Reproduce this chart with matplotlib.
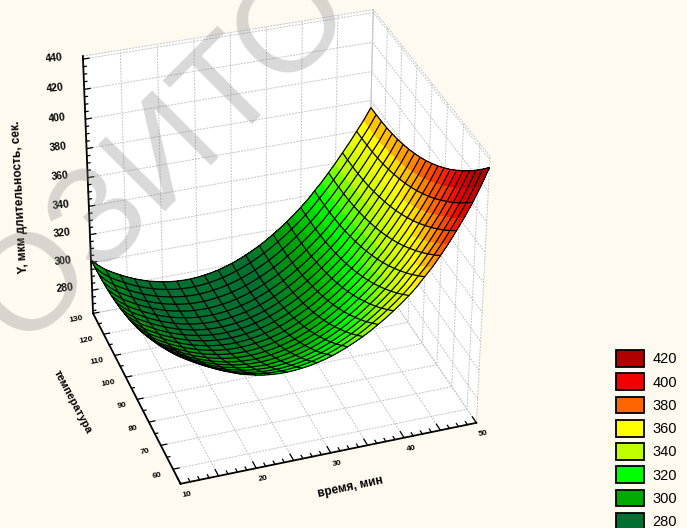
import numpy as np
import matplotlib
matplotlib.use("Agg")
import matplotlib.pyplot as plt
from matplotlib.colors import LinearSegmentedColormap
from matplotlib.patches import Patch

# surface: height along x at the back, rise towards the front,
# and how strong that rise is at each x
x_steps = np.linspace(10, 50, 41)
y_steps = np.linspace(54, 130, 21)
z_along_x = [302.0, 297.0, 293.1, 290.1, 287.4, 284.9, 282.7, 280.8, 279.1, 277.8,
             276.7, 275.8, 275.3, 275.0, 275.0, 275.3, 275.9, 276.7, 277.8, 279.2,
             280.8, 282.8, 285.0, 287.5, 290.2, 293.2, 296.6, 300.1, 304.0, 308.1,
             312.5, 317.2, 322.7, 328.0, 334.0, 340.0, 346.5, 353.0, 360.0, 367.0, 375.0]
rise_along_y = [55.0, 49.4, 44.0, 39.0, 34.3, 29.9, 25.7, 21.9, 18.4, 15.2, 12.3,
                9.7, 7.5, 5.5, 3.8, 2.4, 1.4, 0.6, 0.2, 0.0, 0.0]
rise_scale = [0.95, 0.947, 0.944, 0.941, 0.938, 0.935, 0.932, 0.929, 0.926, 0.923,
              0.92, 0.918, 0.916, 0.914, 0.912, 0.91, 0.908, 0.906, 0.904, 0.902,
              0.90, 0.898, 0.896, 0.894, 0.892, 0.89, 0.888, 0.886, 0.884, 0.882,
              0.88, 0.882, 0.886, 0.89, 0.90, 0.915, 0.935, 0.96, 0.99, 1.04, 1.09]

x_ticks = [10, 15, 20, 25, 30, 35, 40, 45, 50]
x_labels = ["10", "", "20", "", "30", "", "40", "", "50"]
y_ticks = [60, 70, 80, 90, 100, 110, 120, 130]
z_ticks = [280, 300, 320, 340, 360, 380, 400, 420, 440]
levels = [280, 300, 320, 340, 360, 380, 400, 420]
level_colors = ["#007030", "#00AA00", "#00FF00", "#BFFF00", "#FFFF00", "#FF6600", "#F00000", "#B00000"]

x0, x1 = 10, 50
y0, y1 = 54, 130
z0, z1 = 263, 442

bg = "#FFFAF0"
plt.rcParams["font.family"] = ["Liberation Sans", "DejaVu Sans"]
plt.rcParams["grid.color"] = "#C4C4C4"
plt.rcParams["grid.linewidth"] = 0.7
plt.rcParams["grid.linestyle"] = (0, (2, 1.2))

fig = plt.figure(figsize=(6.87, 5.28), dpi=100, facecolor=bg)
s = 528 / 687
ax = fig.add_axes([272.657 / 687 - s / 2, 1 - 246.727 / 528 - 0.5, s, 1.0],
                  projection="3d", computed_zorder=False)
ax.patch.set_alpha(0)
ax.view_init(32.529, -109.144, -0.231)
ax.set_proj_type("persp", focal_length=0.973)
ax.set_box_aspect((0.999, 1.004, 1), zoom=0.989)
ax.set_xlim(x0, x1, view_margin=0)
ax.set_ylim(y0, y1, view_margin=0)
ax.set_zlim(z0, z1, view_margin=0)

ax.set_xticks(x_ticks)
ax.set_yticks(y_ticks)
ax.set_zticks(z_ticks)
ax.set_xticklabels(x_labels, fontsize=6, fontweight="bold", rotation=10, ha="left")
ax.set_yticklabels([str(t) for t in y_ticks], fontsize=6, fontweight="bold", rotation=10,
                   ha="right", va="bottom")
ax.set_zticklabels([str(t) for t in z_ticks], fontsize=7.5, fontweight="bold", rotation=6)
for a in (ax.xaxis, ax.yaxis, ax.zaxis):
    a.set_pane_color("white")
    a.pane.set_edgecolor("none")
    a.line.set_color("none")
ax.xaxis.set_tick_params(color="none", pad=-5)
ax.yaxis.set_tick_params(color="none", pad=-1)
ax.zaxis.set_tick_params(color="none", pad=7)
ax.zaxis.set_ticks_position("upper")
ax.xaxis.set_ticks_position("lower")
ax.yaxis.set_ticks_position("lower")

# dashed outline of the walls
dash = dict(color="#C4C4C4", lw=0.7, ls=(0, (2, 1.2)), zorder=1)
ax.plot([x0, x1], [y1, y1], [z1, z1], **dash)
ax.plot([x1, x1], [y0, y1], [z1, z1], **dash)
ax.plot([x1, x1], [y0, y0], [z0, z1], **dash)
ax.plot([x1, x1], [y1, y1], [z0, z1], **dash)
ax.plot([x1, x1], [y0, y1], [z0, z0], **dash)
ax.plot([x0, x1], [y1, y1], [z0, z0], **dash)

# black axes with inward ticks
axis = dict(color="k", lw=1.3, zorder=2)
ax.plot([x0, x1], [y0, y0], [z0, z0], **axis)
ax.plot([x0, x0], [y0, y1], [z0, z0], **axis)
ax.plot([x0, x0], [y1, y1], [z0, z1], **axis)
tick = dict(color="k", lw=0.9, zorder=2)
for t in np.arange(10, 50.1, 1.25):
    ln = 2.6 if t in x_ticks else 1.3
    ax.plot([t, t], [y0, y0 + ln], [z0, z0], **tick)
for t in np.arange(60, 130.1, 5):
    ln = 0.8 if t in y_ticks else 0.4
    ax.plot([x0, x0 + ln], [t, t], [z0, z0], **tick)
for t in np.arange(265, 441, 5):
    ln = 0.8 if t in z_ticks else 0.4
    ax.plot([x0, x0 + ln], [y1, y1], [t, t], **tick)

# surface
X, Y = np.meshgrid(x_steps, y_steps)
Z = np.array(z_along_x) + np.outer(rise_along_y, rise_scale)
cmap = LinearSegmentedColormap.from_list("levels", level_colors)
cell = Z.copy()
cell[:-1, :-1] = (Z[:-1, :-1] + Z[1:, :-1] + Z[:-1, 1:] + Z[1:, 1:]) / 4
faces = cmap((cell - levels[0] - 4) / (levels[-1] - levels[0]))
ax.plot_surface(X, Y, Z, rstride=1, cstride=1, facecolors=faces, shade=False,
                linewidth=0, antialiased=False, zorder=3)
ax.plot_wireframe(X, Y, Z, rstride=1, cstride=2, color="k", linewidth=0.9, zorder=4)

# axis titles are barely readable in the picture
fig.text(350 / 687, 1 - 487 / 528, "время, мин", fontsize=8.5, fontweight="bold",
         rotation=12, ha="center", va="center")
fig.text(73 / 687, 1 - 402 / 528, "температура", fontsize=8, fontweight="bold",
         rotation=-62, ha="center", va="center", rotation_mode="anchor")
fig.text(20 / 687, 1 - 197 / 528, "Y, мкм длительность, сек.", fontsize=8.5, fontweight="bold",
         rotation=93, ha="center", va="center", rotation_mode="anchor")

# legend runs off the bottom edge
handles = [Patch(facecolor=c, edgecolor="k", linewidth=1.3) for c in level_colors[::-1]]
labels = [str(v) for v in levels[::-1]]
fig.legend(handles, labels, loc="upper left", bbox_to_anchor=(616 / 687, 1 - 350 / 528),
           frameon=False, fontsize=10.5, borderpad=0, borderaxespad=0,
           handlelength=1.9, handleheight=1.4, labelspacing=0.44, handletextpad=0.6)

# watermark
fig.text(164 / 687, 1 - 156 / 528, "ОЗИТО", fontsize=99, color="#808080", alpha=0.3,
         rotation=45, ha="center", va="center", rotation_mode="anchor", zorder=6)

fig.savefig("out.png", dpi=100, facecolor=bg)
